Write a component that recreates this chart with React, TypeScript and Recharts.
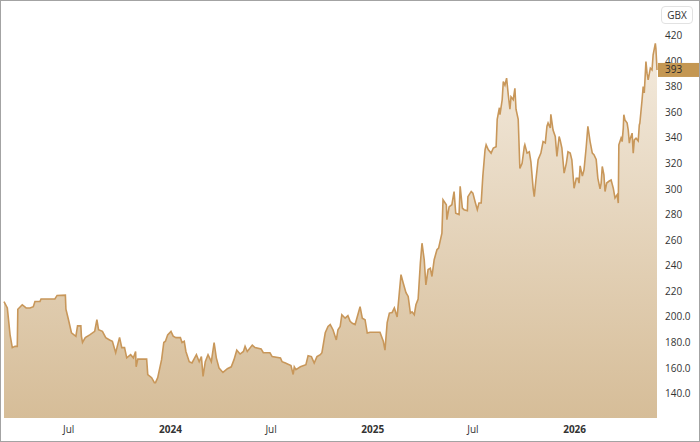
import React from 'react';
import { AreaChart, Area, XAxis, YAxis } from 'recharts';

// price history (GBX)
const dates2023 = [
    '2023-03-06', '2023-03-12', '2023-03-17', '2023-03-21', '2023-03-26', '2023-03-30', '2023-03-31', '2023-04-08',
    '2023-04-15', '2023-04-22', '2023-04-28', '2023-05-01', '2023-05-10', '2023-05-12', '2023-05-25', '2023-06-06',
    '2023-06-10', '2023-06-25', '2023-06-26', '2023-06-30', '2023-07-06', '2023-07-14', '2023-07-17', '2023-07-23',
    '2023-07-24', '2023-07-26', '2023-07-31', '2023-08-08', '2023-08-17', '2023-08-21', '2023-08-24', '2023-08-31',
    '2023-09-06', '2023-09-13', '2023-09-18', '2023-09-24', '2023-10-01', '2023-10-05', '2023-10-10', '2023-10-14',
    '2023-10-21', '2023-10-26', '2023-10-30', '2023-10-31', '2023-11-03', '2023-11-19', '2023-11-21', '2023-11-28',
    '2023-12-03', '2023-12-05', '2023-12-09', '2023-12-16', '2023-12-20', '2023-12-23', '2023-12-27',
];
const prices2023 = [
    212, 207, 186, 176, 177, 177, 206, 209.5,
    207, 207, 208, 212, 212, 214, 214, 214,
    216.8, 217, 206, 199, 187.6, 184.8, 193, 193,
    185, 180, 183.8, 186, 188.7, 197.8, 190, 188.7,
    183.8, 182, 181, 172, 184, 176, 176, 168,
    170.5, 168, 173, 161, 167, 167, 155, 152.5,
    148.6, 148.6, 152.5, 166.6, 180, 181, 186,
];

const dates2024 = [
    '2024-01-02', '2024-01-06', '2024-01-11', '2024-01-19', '2024-01-22', '2024-01-26', '2024-01-29', '2024-02-04',
    '2024-02-09', '2024-02-17', '2024-02-22', '2024-02-26', '2024-02-29', '2024-03-04', '2024-03-09', '2024-03-15',
    '2024-03-20', '2024-03-24', '2024-03-29', '2024-04-05', '2024-04-13', '2024-04-20', '2024-04-25', '2024-04-30',
    '2024-05-04', '2024-05-06', '2024-05-12', '2024-05-15', '2024-05-19', '2024-05-28', '2024-06-02', '2024-06-13',
    '2024-06-17', '2024-06-29', '2024-07-03', '2024-07-18', '2024-07-21', '2024-07-27', '2024-08-06', '2024-08-10',
    '2024-08-12', '2024-08-15', '2024-08-23', '2024-09-02', '2024-09-06', '2024-09-12', '2024-09-17', '2024-09-22',
    '2024-09-28', '2024-10-01', '2024-10-07', '2024-10-12', '2024-10-16', '2024-10-21', '2024-10-27', '2024-10-30',
    '2024-11-03', '2024-11-06', '2024-11-12', '2024-11-17', '2024-11-21', '2024-11-25', '2024-11-30', '2024-12-09',
    '2024-12-13', '2024-12-18', '2024-12-22', '2024-12-27',
];
const prices2024 = [
    188.7, 185, 183.8, 183.8, 180, 181, 173, 165,
    164, 170.5, 165, 169, 153.5, 165, 170.5, 165,
    180, 168, 160, 156.6, 159.5, 161, 166.6, 174,
    172, 171, 173, 177, 173, 178, 176, 175,
    172, 172, 169, 168, 165, 164, 162, 155,
    161, 158.8, 161, 162.6, 169.7, 169, 164, 169,
    170.5, 172, 187.6, 192.6, 194, 190, 182, 190,
    192.6, 201.7, 199, 201, 196.5, 195, 194, 208,
    199, 197.8, 187.4, 188,
];

const dates2025 = [
    '2025-01-14', '2025-01-20', '2025-01-23', '2025-01-27', '2025-01-31', '2025-02-05', '2025-02-09', '2025-02-14',
    '2025-02-18', '2025-02-21', '2025-02-25', '2025-03-02', '2025-03-06', '2025-03-10', '2025-03-13', '2025-03-17',
    '2025-03-20', '2025-03-24', '2025-03-28', '2025-03-31', '2025-04-04', '2025-04-07', '2025-04-11', '2025-04-15',
    '2025-04-18', '2025-04-22', '2025-04-27', '2025-04-30', '2025-05-04', '2025-05-06', '2025-05-08', '2025-05-14',
    '2025-05-15', '2025-05-19', '2025-05-24', '2025-05-28', '2025-05-31', '2025-06-06', '2025-06-08', '2025-06-12',
    '2025-06-15', '2025-06-21', '2025-06-22', '2025-06-28', '2025-07-01', '2025-07-05', '2025-07-09', '2025-07-12',
    '2025-07-16', '2025-07-19', '2025-07-23', '2025-07-25', '2025-07-29', '2025-08-03', '2025-08-07', '2025-08-12',
    '2025-08-14', '2025-08-18', '2025-08-19', '2025-08-23', '2025-08-25', '2025-08-28', '2025-08-31', '2025-09-03',
    '2025-09-06', '2025-09-08', '2025-09-12', '2025-09-15', '2025-09-17', '2025-09-21', '2025-09-24', '2025-09-28',
    '2025-10-02', '2025-10-03', '2025-10-07', '2025-10-11', '2025-10-14', '2025-10-18', '2025-10-20', '2025-10-23',
    '2025-10-27', '2025-11-01', '2025-11-05', '2025-11-09', '2025-11-12', '2025-11-14', '2025-11-18', '2025-11-19',
    '2025-11-23', '2025-11-27', '2025-11-30', '2025-12-04', '2025-12-06', '2025-12-09', '2025-12-13', '2025-12-17',
    '2025-12-20', '2025-12-24', '2025-12-27', '2025-12-31',
];
const prices2025 = [
    188, 181, 174, 195.5, 203, 203.5, 207, 200,
    219, 233, 226.5, 219, 216, 203, 204, 201.7,
    209.5, 214, 242, 257.6, 244.7, 225, 237, 238,
    231.6, 244.7, 252.5, 253.8, 261.6, 265.5, 291.6, 287.7,
    276, 286, 287.7, 298, 281, 280, 302, 285,
    283.8, 283, 294, 298, 296.7, 290, 283.8, 289,
    289, 310, 330.6, 334.5, 330.6, 328, 332, 333,
    354.4, 363.5, 358, 369.7, 384, 381, 386.6, 373.6,
    362.3, 372, 369.7, 378.7, 362.3, 354.4, 316, 320,
    333, 334.5, 328, 329, 321, 300.5, 294, 307,
    322.8, 328, 337, 336, 349, 351.5, 347.6, 358.3,
    346, 341, 325.5, 341, 338, 332, 312.4, 320,
    329, 328, 322.8, 300.5,
];

const dates2026 = [
    '2026-01-04', '2026-01-07', '2026-01-09', '2026-01-11', '2026-01-15', '2026-01-18', '2026-01-22', '2026-01-25',
    '2026-01-29', '2026-02-02', '2026-02-05', '2026-02-09', '2026-02-12', '2026-02-16', '2026-02-18', '2026-02-20',
    '2026-02-23', '2026-02-25', '2026-02-28', '2026-03-04', '2026-03-08', '2026-03-12', '2026-03-15', '2026-03-19',
    '2026-03-21', '2026-03-22', '2026-03-26', '2026-03-28', '2026-03-30', '2026-03-31', '2026-04-02', '2026-04-06',
    '2026-04-08', '2026-04-10', '2026-04-11', '2026-04-15', '2026-04-17', '2026-04-19', '2026-04-22', '2026-04-26',
    '2026-04-28', '2026-04-29', '2026-05-03', '2026-05-05', '2026-05-07', '2026-05-10', '2026-05-12', '2026-05-14',
    '2026-05-18', '2026-05-21', '2026-05-23', '2026-05-27', '2026-05-28', '2026-05-30',
];
const prices2026 = [
    308.3, 308.3, 304.5, 318, 310, 315, 333, 349,
    337, 328, 326.7, 323, 308.5, 300, 304.6, 317.6,
    311, 298, 304.6, 306, 307, 300.5, 293, 295.5,
    289, 334.5, 339.7, 337, 347.5, 358, 354, 351.5,
    346, 335.8, 338.4, 343.6, 328, 338.4, 339.7, 337.6,
    350, 351.5, 369.7, 380, 375, 399.6, 390.5, 385.3,
    394.4, 393, 404.7, 413.8, 410, 393,
];

const xTickDates = ['2023-07-01', '2024-01-01', '2024-07-01', '2025-01-01', '2025-07-01', '2026-01-01'];
const xTickLabels = ['Jul', '2024', 'Jul', '2025', 'Jul', '2026'];

const yTicks = [140, 160, 180, 200, 220, 240, 260, 280, 300, 320, 340, 360, 380, 400, 420];
const yTickLabels = ['140.0', '160.0', '180.0', '200.0', '220', '240', '260', '280', '300', '320', '340', '360', '380', '400', '420'];
const yDomain = [121, 425];

const currency = 'GBX';

const allDates = [...dates2023, ...dates2024, ...dates2025, ...dates2026];
const allPrices = [...prices2023, ...prices2024, ...prices2025, ...prices2026];
const data = allDates.map((d, i) => ({ t: Date.parse(d), price: allPrices[i] }));
const xTicks = xTickDates.map(d => Date.parse(d));
const lastPrice = allPrices[allPrices.length - 1];

const LINE = '#C8975A';

// eslint-disable-next-line @typescript-eslint/no-explicit-any
function XTick({ x, y, payload }: any) {
    const label = xTickLabels[xTicks.indexOf(payload.value)] ?? '';
    const isYear = /^\d{4}$/.test(label);
    return (
        <text x={x} y={y} dy="0.71em" textAnchor="middle" fontSize={10} fill="#333" fontWeight={isYear ? 700 : 400}>
            {label}
        </text>
    );
}

// last-price tag, drawn as the single tick of an outer axis so it sits above the price ticks
// eslint-disable-next-line @typescript-eslint/no-explicit-any
function PriceTag({ x, y, payload }: any) {
    return (
        <g>
            <rect x={x - 40} y={y - 7} width={41} height={14} fill="#C49752" />
            <text x={x - 33} y={y} dy="0.35em" fontSize={10} fill="#2b2b2b">{payload.value}</text>
        </g>
    );
}

export default function App() {
    return (
        <div
            style={{
                position: 'absolute', left: 0, top: 0, width: 700, height: 442, boxSizing: 'border-box',
                border: '1px solid #a3a3a3', background: '#fff', fontFamily: '"Open Sans", sans-serif',
            }}
        >
            <div
                style={{
                    position: 'absolute', left: 660, top: 5, width: 32, height: 18, boxSizing: 'border-box',
                    border: '1px solid #e2e2e2', borderRadius: 4, fontSize: 10, color: '#333',
                    display: 'flex', alignItems: 'center', justifyContent: 'center', zIndex: 2,
                }}
            >
                {currency}
            </div>
            <AreaChart width={698} height={440} data={data} margin={{ top: 28, right: 0, bottom: 0, left: 3 }}>
                <defs>
                    <linearGradient id="gradPrice" x1="0" y1="0" x2="0" y2="1">
                        <stop offset="0%" stopColor="#F3EADD" />
                        <stop offset="100%" stopColor="#D6BD98" />
                    </linearGradient>
                </defs>
                <XAxis
                    dataKey="t" type="number" domain={['dataMin', 'dataMax']} ticks={xTicks}
                    tick={<XTick />} tickLine={false} axisLine={false} height={23} interval={0}
                />
                <YAxis
                    yAxisId="price" orientation="right" type="number" domain={yDomain} ticks={yTicks} allowDataOverflow
                    tickFormatter={v => yTickLabels[yTicks.indexOf(v)] ?? String(v)}
                    tick={{ fontSize: 10, fill: '#333' }} tickLine={false} axisLine={false} width={41} interval={0}
                />
                <YAxis
                    yAxisId="tag" orientation="right" type="number" domain={yDomain} ticks={[lastPrice]} allowDataOverflow
                    tick={<PriceTag />} tickLine={false} axisLine={false} tickSize={0} tickMargin={0} width={1} interval={0}
                />
                <Area
                    yAxisId="price" type="linear" dataKey="price" stroke={LINE} strokeWidth={1.6} fill="url(#gradPrice)"
                    fillOpacity={1} dot={false} activeDot={false} isAnimationActive={false}
                />
            </AreaChart>
        </div>
    );
}
